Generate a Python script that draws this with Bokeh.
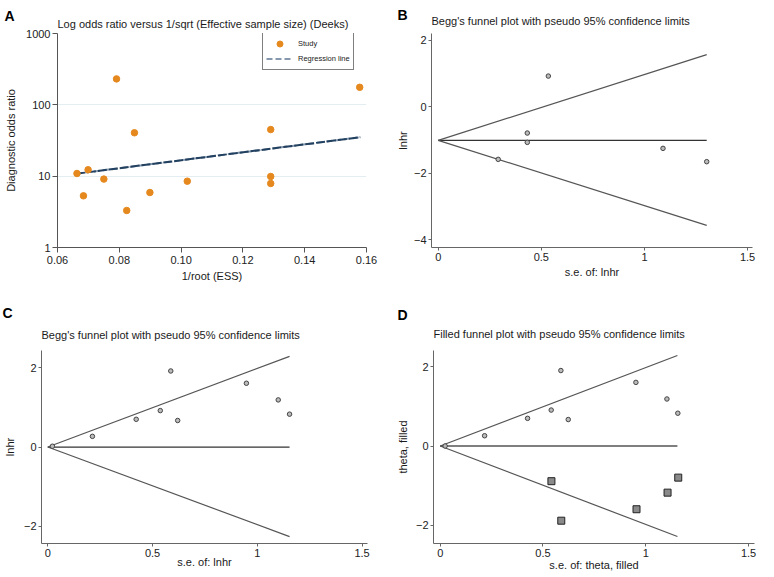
from bokeh.plotting import figure
from bokeh.models import (Range1d, FixedTicker, CustomJSTickFormatter, Title,
                          Legend, LegendItem)
from bokeh.layouts import column, row
from bokeh.embed import file_html
from bokeh.resources import INLINE

FONT = "Liberation Sans"

# ---------------- data ----------------
# Panel A: Deeks funnel plot
a_study_x = [0.0663, 0.0684, 0.0699, 0.0750, 0.0791, 0.0824, 0.0849, 0.0899,
             0.1020, 0.1290, 0.1290, 0.1290, 0.1578]
a_study_dor = [10.9, 5.3, 12.3, 9.1, 231, 3.3, 40.6, 5.9, 8.5, 45, 9.9, 7.9, 176]
a_reg_x = [0.066, 0.158]
a_reg_dor = [10.8, 35.2]
a_xticks = [0.06, 0.08, 0.10, 0.12, 0.14, 0.16]
a_yticks = [1, 10, 100, 1000]

# Panel B: Begg's funnel plot
b_se = [0.291, 0.432, 0.432, 0.534, 1.090, 1.302]
b_lnhr = [-1.58, -0.79, -1.07, 0.92, -1.25, -1.65]
b_funnel_se = [0, 1.302]
b_center = [-1.01, -1.01]
b_upper = [-1.01, 1.565]
b_lower = [-1.01, -3.56]
b_yticks = [-4, -2, 0, 2]

# Panel C: Begg's funnel plot
c_se = [0.022, 0.213, 0.422, 0.537, 0.587, 0.620, 0.948, 1.100, 1.154]
c_lnhr = [0.02, 0.27, 0.70, 0.92, 1.92, 0.67, 1.61, 1.19, 0.83]
c_funnel_se = [0, 1.154]
c_center = [0, 0]
c_upper = [0, 2.29]
c_lower = [0, -2.26]

# Panel D: filled funnel plot
d_se = [0.024, 0.216, 0.425, 0.540, 0.587, 0.623, 0.952, 1.103, 1.156]
d_theta = [0.0, 0.26, 0.70, 0.91, 1.91, 0.67, 1.61, 1.19, 0.83]
d_filled_se = [0.541, 0.589, 0.955, 1.106, 1.158]
d_filled_theta = [-0.89, -1.89, -1.60, -1.18, -0.80]
d_funnel_se = [0, 1.154]
d_center = [0, 0]
d_upper = [0, 2.29]
d_lower = [0, -2.29]

se_xticks = [0, 0.5, 1, 1.5]
cd_yticks = [-2, 0, 2]


def make_fig(w, h, left, right, top, bottom, xr, yr, y_axis_type="linear"):
    p = figure(width=w, height=h, min_border_left=left, min_border_right=right,
               min_border_top=top, min_border_bottom=bottom,
               x_range=Range1d(*xr), y_range=Range1d(*yr),
               y_axis_type=y_axis_type, output_backend="svg",
               toolbar_location=None)
    p.outline_line_color = None
    p.background_fill_color = "white"
    p.border_fill_color = "white"
    p.xgrid.visible = False
    p.ygrid.visible = False
    return p


def style_axes(p, tick_out, xstand, color, xlab, xlab_off, ylab, ylab_off):
    for ax in p.axis:
        ax.axis_line_color = color
        ax.axis_line_width = 1
        ax.major_tick_line_color = color
        ax.major_tick_out = tick_out
        ax.major_tick_in = 0
        ax.minor_tick_line_color = None
        ax.major_label_text_font = FONT
        ax.major_label_text_font_size = "11px"
        ax.major_label_text_color = "#222222"
        ax.major_label_standoff = 2
        ax.axis_label_text_font = FONT
        ax.axis_label_text_font_size = "11px"
        ax.axis_label_text_font_style = "normal"
        ax.axis_label_text_color = "#1a1a1a"
    p.xaxis.major_label_standoff = xstand
    p.xaxis.axis_label = xlab
    p.xaxis.axis_label_standoff = xlab_off
    p.yaxis.axis_label = ylab
    p.yaxis.axis_label_standoff = ylab_off


def set_titles(p, letter, letter_offset, letter_standoff, text, standoff):
    # outer title: panel letter
    p.title.text = letter
    p.title.text_font = FONT
    p.title.text_font_size = "14px"
    p.title.text_font_style = "bold"
    p.title.text_color = "black"
    p.title.align = "left"
    p.title.offset = letter_offset
    p.title.standoff = letter_standoff
    # inner title: chart title
    p.add_layout(Title(text=text, align="left", offset=0, standoff=standoff,
                       text_font=FONT, text_font_size="11px",
                       text_font_style="normal", text_color="#1a1a1a"), "above")


se_fmt = CustomJSTickFormatter(code="return tick.toString();")

# ---------------- Panel A ----------------
pA = make_fig(390, 290, 57, 24, 33, 43, (0.06, 0.16), (1, 1000), "log")
style_axes(pA, 5, 3, "#555555", "1/root (ESS)", 3, "Diagnostic odds ratio", 6)
pA.xaxis.ticker = FixedTicker(ticks=a_xticks)
pA.xaxis.formatter = CustomJSTickFormatter(code="return tick.toFixed(2);")
pA.yaxis.ticker = FixedTicker(ticks=a_yticks)
pA.yaxis.formatter = CustomJSTickFormatter(code="return tick.toString();")
pA.ygrid.visible = True
pA.ygrid.ticker = FixedTicker(ticks=a_yticks)
pA.ygrid.grid_line_color = "#e3eef2"
pA.ygrid.grid_line_width = 1

r_leg_line = pA.line(a_reg_x, a_reg_dor, line_color="#8598ad", line_width=2,
                     line_dash="6 3")
pA.line(a_reg_x, a_reg_dor, line_color="#22405f", line_width=2, line_dash="9 2")
r_study = pA.scatter(a_study_x, a_study_dor, size=6.5, marker="circle",
                     fill_color="#e5891f", line_color="#e5891f")
legend = Legend(items=[LegendItem(label="Study", renderers=[r_study]),
                       LegendItem(label="Regression line", renderers=[r_leg_line])],
                location=(205, 177), margin=0, padding=3, spacing=0,
                label_standoff=5, glyph_width=27, glyph_height=15,
                label_height=15, label_text_font=FONT,
                label_text_font_size="7.5px", label_text_color="#222222",
                border_line_color="black", border_line_width=1,
                background_fill_color="white", background_fill_alpha=1)
pA.add_layout(legend)
set_titles(pA, "A", -53, -23,
           "Log odds ratio versus 1/sqrt (Effective sample size) (Deeks)", 7)

# ---------------- Panel B ----------------
pB = make_fig(384, 290, 41, 22, 32, 42, (-0.0325, 1.524), (-4.226, 2.198))
style_axes(pB, 3, 2, "#666666", "s.e. of: lnhr", 2, "lnhr", 2)
pB.xaxis.ticker = FixedTicker(ticks=se_xticks)
pB.xaxis.formatter = se_fmt
pB.yaxis.ticker = FixedTicker(ticks=b_yticks)
pB.line(b_funnel_se, b_center, line_color="#333333", line_width=1.3)
pB.line(b_funnel_se, b_upper, line_color="#555555", line_width=1.2)
pB.line(b_funnel_se, b_lower, line_color="#555555", line_width=1.2)
pB.scatter(b_se, b_lnhr, size=4.5, marker="circle", fill_color="#bbbbbb",
           line_color="#444444", line_width=1)
set_titles(pB, "B", -34, -34,
           "Begg's funnel plot with pseudo 95% confidence limits", 14)

# ---------------- Panel C ----------------
pC = make_fig(390, 287, 41, 23, 60, 34, (-0.030, 1.526), (-2.435, 2.437))
style_axes(pC, 3, 2, "#666666", "s.e. of: lnhr", -4, "lnhr", 5)
pC.xaxis.ticker = FixedTicker(ticks=se_xticks)
pC.xaxis.formatter = se_fmt
pC.yaxis.ticker = FixedTicker(ticks=cd_yticks)
pC.line(c_funnel_se, c_center, line_color="#333333", line_width=1.3)
pC.line(c_funnel_se, c_upper, line_color="#555555", line_width=1.2)
pC.line(c_funnel_se, c_lower, line_color="#555555", line_width=1.2)
pC.scatter(c_se, c_lnhr, size=4.5, marker="circle", fill_color="#bbbbbb",
           line_color="#444444", line_width=1)
set_titles(pC, "C", -39, -7,
           "Begg's funnel plot with pseudo 95% confidence limits", 19)

# ---------------- Panel D ----------------
pD = make_fig(384, 287, 43, 20, 57, 34, (-0.0326, 1.529), (-2.467, 2.417))
style_axes(pD, 3, 2, "#666666", "s.e. of: theta, filled", -1, "theta, filled", 4)
pD.xaxis.ticker = FixedTicker(ticks=se_xticks)
pD.xaxis.formatter = se_fmt
pD.yaxis.ticker = FixedTicker(ticks=cd_yticks)
pD.line(d_funnel_se, d_center, line_color="#555555", line_width=1.3)
pD.line(d_funnel_se, d_upper, line_color="#555555", line_width=1.2)
pD.line(d_funnel_se, d_lower, line_color="#555555", line_width=1.2)
pD.scatter(d_se, d_theta, size=4.5, marker="circle", fill_color="#bbbbbb",
           line_color="#444444", line_width=1)
pD.scatter(d_filled_se, d_filled_theta, size=7, marker="square",
           fill_color="#8a8a8a", line_color="#222222", line_width=1)
set_titles(pD, "D", -36, -16,
           "Filled funnel plot with pseudo 95% confidence limits", 22)

layout = column(row(pA, pB), row(pC, pD))
open("out.html", "w").write(file_html(layout, INLINE))
